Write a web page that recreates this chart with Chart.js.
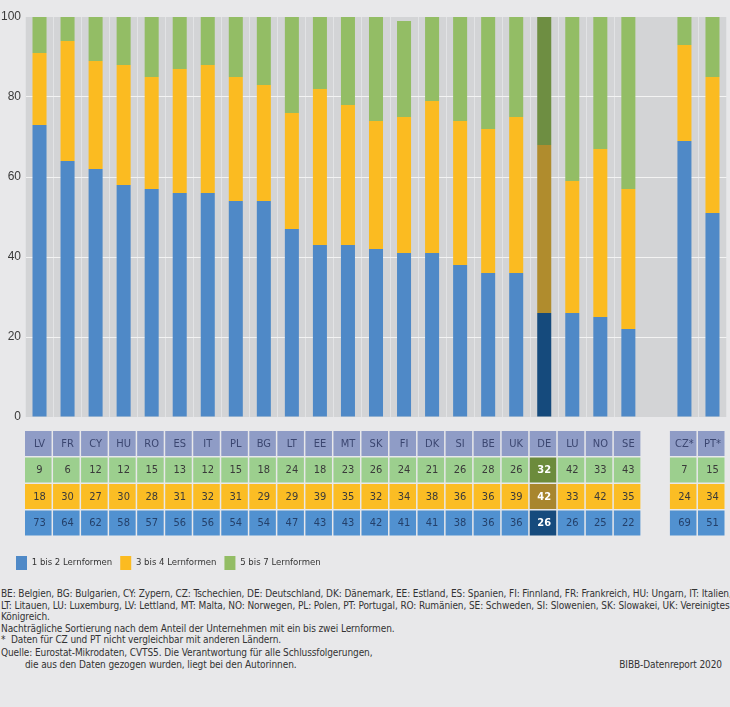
<!DOCTYPE html>
<html>
<head>
<meta charset="utf-8">
<script src="https://cdn.jsdelivr.net/npm/chart.js@4.4.1/dist/chart.umd.min.js"></script>
<style>
  body { margin: 0; background: #e8e8ea; width: 730px; height: 707px; overflow: hidden;
         font-family: "Liberation Sans Narrow", "DejaVu Sans Condensed", sans-serif; color: #333; }
  #wrap { position: absolute; left: 0; top: 0; width: 730px; height: 580px; }
  #notes { position: absolute; left: 1px; top: 588px; width: 728px; font-size: 10px; line-height: 11.6px; letter-spacing: -0.1px; }
  #notes div { white-space: nowrap; }
  #notes .j { text-align: justify; text-align-last: justify; }
  #notes .q { margin-top: 1.5px; }
  #notes .ind { padding-left: 24px; }
  #notes .src { position: absolute; right: 7px; bottom: 0; }
</style>
</head>
<body>
<div id="wrap"><canvas id="grafik"></canvas></div>
<div id="notes">
  <div class="j">BE: Belgien, BG: Bulgarien, CY: Zypern, CZ: Tschechien, DE: Deutschland, DK: Dänemark, EE: Estland, ES: Spanien, FI: Finnland, FR: Frankreich, HU: Ungarn, IT: Italien,</div>
  <div class="j">LT: Litauen, LU: Luxemburg, LV: Lettland, MT: Malta, NO: Norwegen, PL: Polen, PT: Portugal, RO: Rumänien, SE: Schweden, SI: Slowenien, SK: Slowakei, UK: Vereinigtes</div>
  <div>Königreich.</div>
  <div>Nachträgliche Sortierung nach dem Anteil der Unternehmen mit ein bis zwei Lernformen.</div>
  <div>*&nbsp; Daten für CZ und PT nicht vergleichbar mit anderen Ländern.</div>
  <div class="q">Quelle: Eurostat-Mikrodaten, CVTS5. Die Verantwortung für alle Schlussfolgerungen,</div>
  <div class="ind">die aus den Daten gezogen wurden, liegt bei den Autorinnen.</div>
  <div class="src">BIBB-Datenreport 2020</div>
</div>
<script>
// Länder (leerer Eintrag = Lücke vor CZ/PT)
const laender = ['LV','FR','CY','HU','RO','ES','IT','PL','BG','LT','EE','MT','SK','FI','DK','SI','BE','UK','DE','LU','NO','SE','','CZ*','PT*'];

// Anteile in %
const lern12 = [73,64,62,58,57,56,56,54,54,47,43,43,42,41,41,38,36,36,26,26,25,22,null,69,51];
const lern34 = [18,30,27,30,28,31,32,31,29,29,39,35,32,34,38,36,36,39,42,33,42,35,null,24,34];
const lern57 = [9,6,12,12,15,13,12,15,18,24,18,23,26,24,21,26,28,26,32,42,33,43,null,7,15];

const yTicks = [0, 20, 40, 60, 80, 100];

const schrift = '"Liberation Sans Narrow", "DejaVu Sans Condensed", sans-serif';

// Farben: normal / Deutschland hervorgehoben
const farben = {
  blau:  { bar: '#4f89c7', de: '#154a7c', zelle: '#5191d0', zelleDe: '#164b7d' },
  gelb:  { bar: '#fbbb21', de: '#b08c2d', zelle: '#fbbd24', zelleDe: '#a8862e' },
  gruen: { bar: '#93bd65', de: '#6e8e42', zelle: '#9ccf8e', zelleDe: '#6c8b3c' }
};

const farbe = (f) => (c) => laender[c.dataIndex] === 'DE' ? f.de : f.bar;

// grauer Plot-Hintergrund
const hintergrund = {
  id: 'hintergrund',
  afterLayout(chart) {
    // Legende etwas eingerückt wie im Original
    if (chart.legend) chart.legend.left = 8;
  },
  beforeDraw(chart) {
    const {ctx, chartArea: a} = chart;
    ctx.save();
    ctx.fillStyle = '#e8e8ea';
    ctx.fillRect(0, 0, chart.width, chart.height);
    ctx.fillStyle = '#d3d4d6';
    ctx.fillRect(a.left, a.top, a.right - a.left, a.bottom - a.top);
    ctx.restore();
  }
};

// Datentabelle unter dem Diagramm
const tabelle = {
  id: 'tabelle',
  afterDraw(chart) {
    const {ctx, chartArea: a} = chart;
    const x = chart.scales.x;
    const slot = (a.right - a.left) / laender.length;
    const zeilen = [
      { werte: null },
      { werte: lern57, f: farben.gruen },
      { werte: lern34, f: farben.gelb },
      { werte: lern12, f: farben.blau }
    ];
    const top0 = a.bottom + 14, h = 25, gap = 1.5;
    ctx.save();
    ctx.textAlign = 'center';
    ctx.textBaseline = 'middle';
    laender.forEach((land, i) => {
      if (!land) return;
      const cx = x.getPixelForValue(i);
      const left = cx - slot / 2 - 0.5;
      const w = slot - 1.5;
      const de = land === 'DE';
      zeilen.forEach((z, r) => {
        const top = top0 + r * (h + gap);
        if (!z.werte) {
          ctx.fillStyle = '#8f9cc6';
          ctx.fillRect(left, top, w, h);
          ctx.fillStyle = '#3b4670';
          ctx.font = '11px ' + schrift;
          ctx.fillText(land, cx, top + h / 2 + 0.5);
        } else {
          ctx.fillStyle = de ? z.f.zelleDe : z.f.zelle;
          ctx.fillRect(left, top, w, h);
          ctx.fillStyle = de ? '#ffffff' : (r === 3 ? '#24406a' : '#3a3a3a');
          ctx.font = (de ? 'bold ' : '') + '11px ' + schrift;
          ctx.fillText(String(z.werte[i]), cx, top + h / 2 + 0.5);
        }
      });
    });
    ctx.restore();
  }
};

new Chart(document.getElementById('grafik'), {
  type: 'bar',
  data: {
    labels: laender,
    datasets: [
      { label: '1 bis 2 Lernformen', data: lern12, backgroundColor: farbe(farben.blau) },
      { label: '3 bis 4 Lernformen', data: lern34, backgroundColor: farbe(farben.gelb) },
      { label: '5 bis 7 Lernformen', data: lern57, backgroundColor: farbe(farben.gruen) }
    ]
  },
  options: {
    responsive: true,
    maintainAspectRatio: false,
    animation: false,
    barPercentage: 0.5,
    categoryPercentage: 1,
    borderWidth: 0,
    layout: { padding: { left: 0, right: 3.5, top: 17, bottom: 0 } },
    scales: {
      x: {
        stacked: true,
        ticks: { display: false },
        border: { display: false },
        grid: {
          offset: true,
          drawTicks: false,
          lineWidth: 1,
          color: (c) => (c.index === 22 || c.index === 23) ? 'rgba(0,0,0,0)' : '#e2e3e5'
        },
        afterFit(s) { s.height = 131; }
      },
      y: {
        stacked: true,
        min: 0,
        max: 100,
        afterBuildTicks(s) { s.ticks = yTicks.map(v => ({ value: v })); },
        ticks: { color: '#3a3a3a', padding: 4.5, font: { size: 12, family: '"Liberation Sans", sans-serif' } },
        border: { display: false },
        grid: {
          drawTicks: false,
          lineWidth: 1,
          color: (c) => (c.tick && (c.tick.value === 0 || c.tick.value === 100)) ? 'rgba(0,0,0,0)' : '#f3f3f3'
        },
        afterFit(s) { s.width = 25.5; }
      }
    },
    plugins: {
      legend: {
        position: 'bottom',
        align: 'start',
        labels: {
          boxWidth: 11,
          boxHeight: 14,
          padding: 8,
          color: '#333',
          font: { size: 9.5, family: schrift }
        }
      },
      tooltip: { enabled: false }
    }
  },
  plugins: [hintergrund, tabelle]
});
</script>
</body>
</html>
